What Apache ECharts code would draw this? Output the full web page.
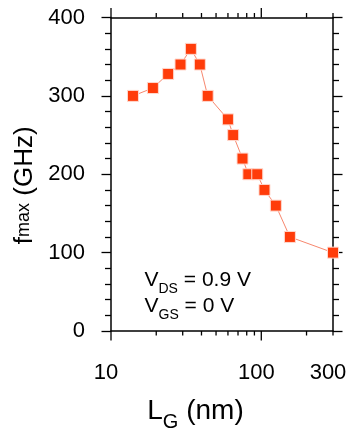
<!DOCTYPE html>
<html><head><meta charset="utf-8">
<script src="https://cdn.jsdelivr.net/npm/echarts@6/dist/echarts.min.js"></script>
<style>html,body{margin:0;padding:0;background:#fff}#c{width:350px;height:433px}</style>
</head><body><div id="c"></div>
<script>
// ---- data ----
const lg = [14, 19, 24, 29, 34, 39, 44, 60, 65, 75, 82, 94, 105, 125, 155, 300];
const fmax = [300, 310, 328, 340, 360, 340, 300, 270, 250, 220, 200, 200, 180, 160, 120, 100];
const xTickLabels = [10, 100, 300];
const xMajorTicks = [10, 100];
const xMinorTicks = [20, 30, 40, 50, 60, 70, 80, 90, 200, 300];
const xMin = 10, xMax = 300;
const yMin = 0, yMax = 400, yStep = 100;

const FONT = 'Liberation Sans';
const chart = echarts.init(document.getElementById('c'), null, {renderer: 'canvas'});

const axisLine = {show: true, onZero: false, lineStyle: {color: '#000', width: 1.5}};
const rt = (size, extra) => Object.assign({fontSize: size, fontFamily: FONT, color: '#000'}, extra || {});
const annoRich = {a: rt(21, {lineHeight: 24}), s: rt(14, {lineHeight: 16, padding: [18, 0, 0, 0]})};

const option = {
  animation: false,
  backgroundColor: '#fff',
  grid: {left: 111, right: 17, top: 17.5, bottom: 102, containLabel: false, outerBoundsMode: 'none'},
  xAxis: [{
    type: 'log', logBase: 10, min: xMin, max: xMax, position: 'bottom',
    axisLine, axisTick: {show: false}, splitLine: {show: false},
    axisLabel: {
      fontSize: 22, fontFamily: FONT, color: '#000', margin: 31, padding: [0, 10, 0, 0],
      showMinLabel: true, showMaxLabel: true,
      formatter: v => { const r = Math.round(v); return xTickLabels.includes(r) ? String(r) : ''; }
    },
    name: '{a|L}{s|G}{a| (nm)}', nameLocation: 'middle', nameGap: 56,
    nameTextStyle: {padding: [0, 53, 0, 0], rich: {
      a: rt(28, {lineHeight: 30}),
      s: rt(20, {lineHeight: 20, padding: [24, 0, 0, 0]})
    }}
  }, {
    type: 'log', logBase: 10, min: xMin, max: xMax, position: 'top',
    axisLine, axisTick: {show: false}, axisLabel: {show: false}, splitLine: {show: false}
  }],
  yAxis: [{
    type: 'value', min: yMin, max: yMax, interval: yStep, position: 'left',
    axisLine, axisTick: {show: true, inside: false, length: 9.5, lineStyle: {color: '#000', width: 1.3}},
    minorTick: {show: true, splitNumber: 5, length: 6, lineStyle: {color: '#000', width: 1.3}},
    splitLine: {show: false}, minorSplitLine: {show: false},
    axisLabel: {fontSize: 22, fontFamily: FONT, color: '#000', margin: 26},
    name: '{a|f}{s|max}{a| (GHz)}', nameLocation: 'middle', nameRotate: 90, nameGap: 70,
    nameTextStyle: {padding: [0, 22, 0, 0], rich: {
      a: rt(26, {lineHeight: 30}),
      s: rt(18, {lineHeight: 30})
    }}
  }, {
    type: 'value', min: yMin, max: yMax, interval: yStep, position: 'right',
    axisLine, axisTick: {show: true, inside: false, length: 9.5, lineStyle: {color: '#000', width: 1.3}},
    minorTick: {show: true, splitNumber: 5, length: 6, lineStyle: {color: '#000', width: 1.3}},
    splitLine: {show: false}, axisLabel: {show: false}
  }],
  graphic: [
    {id: 'anno1', type: 'text', left: 144.5, top: 264, style: {text: '{a|V}{s|DS}{a| = 0.9 V}', rich: annoRich}},
    {id: 'anno2', type: 'text', left: 144.5, top: 290.5, style: {text: '{a|V}{s|GS}{a| = 0 V}', rich: annoRich}}
  ],
  series: [
    {
      type: 'line', xAxisIndex: 0, yAxisIndex: 0, clip: false, z: 3,
      data: lg.map((x, i) => [x, fmax[i]]),
      symbol: 'rect', symbolSize: 11,
      lineStyle: {color: '#f7876e', width: 1},
      itemStyle: {color: '#ff3c0a', borderColor: '#ffd9cf', borderWidth: 1}
    }
  ]
};
chart.setOption(option);

// log-axis ticks (bottom and top), positioned through the x axis scale
const yBot = chart.convertToPixel({yAxisIndex: 0}, yMin);
const yTop = chart.convertToPixel({yAxisIndex: 0}, yMax);
const tickEls = [];
function addTicks(values, len) {
  values.forEach((v) => {
    const px = chart.convertToPixel({xAxisIndex: 0}, v);
    const st = {stroke: '#000', lineWidth: 1.3};
    tickEls.push({id: 'tb' + v, type: 'line', z: 100, silent: true, shape: {x1: px, y1: yBot, x2: px, y2: yBot + len}, style: st});
    tickEls.push({id: 'tt' + v, type: 'line', z: 100, silent: true, shape: {x1: px, y1: yTop, x2: px, y2: yTop - len}, style: st});
  });
}
addTicks(xMajorTicks, 9.5);
addTicks(xMinorTicks, 4.5);
chart.setOption({graphic: tickEls});
</script></body></html>
